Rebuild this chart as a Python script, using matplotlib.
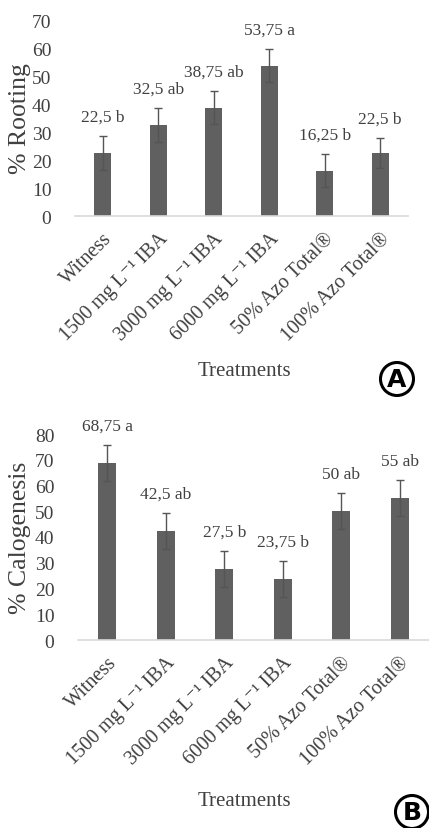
import numpy as np
import matplotlib
matplotlib.use("Agg")
import matplotlib.pyplot as plt

plt.rcParams['font.family'] = ['Liberation Serif', 'DejaVu Serif']

treatments = ['Witness', '1500 mg L⁻¹ IBA', '3000 mg L⁻¹ IBA', '6000 mg L⁻¹ IBA',
              '50% Azo Total®', '100% Azo Total®']

rooting = [22.5, 32.5, 38.75, 53.75, 16.25, 22.5]
rooting_err = [6.0, 6.0, 6.0, 6.0, 6.0, 5.5]
rooting_lbl = ['22,5 b', '32,5 ab', '38,75 ab', '53,75 a', '16,25 b', '22,5 b']

calog = [68.75, 42.5, 27.5, 23.75, 50, 55]
calog_err = [7.0, 7.0, 7.0, 7.0, 7.0, 7.0]
calog_lbl = ['68,75 a', '42,5 ab', '27,5 b', '23,75 b', '50 ab', '55 ab']

bar_col = '#606060'
txt_col = '#404040'

fig = plt.figure(figsize=(4.29, 8.29), dpi=100)


def panel(rect, vals, errs, lbls, ymax, ylabel, letter, letter_xy, xlab_y):
    ax = fig.add_axes(rect)
    x = np.arange(len(vals))
    ax.bar(x, vals, width=0.3, color=bar_col, zorder=2)
    ax.errorbar(x, vals, yerr=errs, fmt='none', ecolor='#555555', elinewidth=1,
                capsize=3, capthick=1, zorder=3)
    for xi, v, e, s in zip(x, vals, errs, lbls):
        ax.annotate(s, (xi, v + e), xytext=(0, 8), textcoords='offset points',
                    ha='center', va='bottom', fontsize=12.5, color=txt_col,
                    annotation_clip=False)
    ax.set_xlim(-0.5, len(vals) - 0.5)
    ax.set_ylim(0, ymax)
    ax.set_yticks(np.arange(0, ymax + 1, 10))
    ax.tick_params(axis='y', length=0, pad=17, labelsize=14, labelcolor=txt_col)
    ax.tick_params(axis='x', length=0, pad=9, labelsize=14.5, labelcolor=txt_col)
    ax.set_xticks(x)
    ax.set_xticklabels(treatments, rotation=45, ha='right', va='top',
                       rotation_mode='anchor')
    for sp in ['top', 'right', 'left']:
        ax.spines[sp].set_visible(False)
    ax.spines['bottom'].set_color('#d9d9d9')
    ax.spines['bottom'].set_linewidth(1.2)
    ax.set_ylabel(ylabel, fontsize=18.5, color=txt_col)
    ax.yaxis.set_label_coords(-(rect[0] * 429 - 31) / (rect[2] * 429), 0.5)
    fig.text(0.57, xlab_y, 'Treatments', ha='center', va='center', fontsize=15,
             color=txt_col)
    fig.text(letter_xy[0], letter_xy[1], letter, ha='center', va='center',
             fontsize=18, fontweight='bold', family='DejaVu Sans', color='black',
             bbox=dict(boxstyle='circle,pad=0.18', fc='white', ec='black', lw=2.2))
    return ax


panel([75 / 429, 1 - 217 / 829, 333 / 429, 196 / 829], rooting, rooting_err,
      rooting_lbl, 70, '% Rooting', 'A', (397 / 429, 1 - 380 / 829), 1 - 372 / 829)
panel([78 / 429, 1 - 641 / 829, 351 / 429, 206 / 829], calog, calog_err,
      calog_lbl, 80, '% Calogenesis', 'B', (412 / 429, 1 - 813 / 829), 1 - 802 / 829)

fig.savefig('out.png', dpi=100)
